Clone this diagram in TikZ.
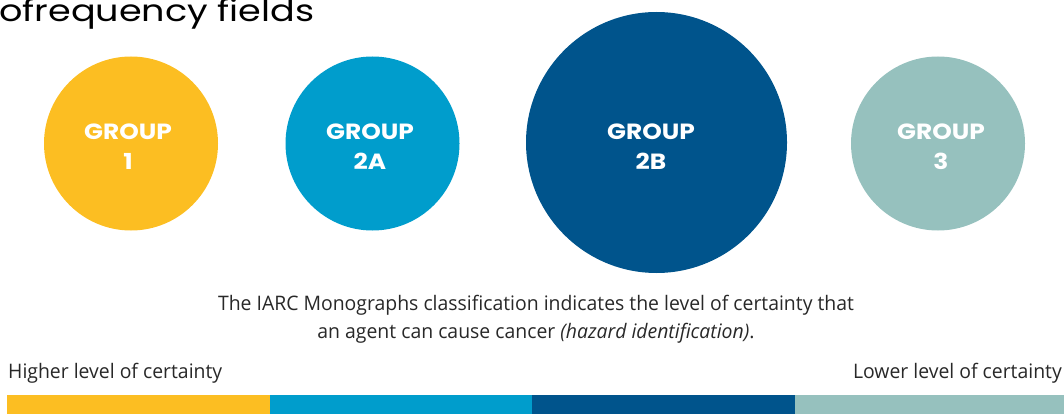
\documentclass[tikz,border=0pt]{standalone}
\usepackage{fontspec}
\setmainfont{Open Sans}
\newfontfamily\titlefont[FakeStretch=1.22]{Poppins}
\newfontfamily\groupfont[FakeStretch=1.13]{Poppins}
\newfontfamily\bodyfont[FakeStretch=0.97]{Open Sans}
\definecolor{gOne}{RGB}{252,190,34}
\definecolor{gTwoA}{RGB}{0,157,204}
\definecolor{gTwoB}{RGB}{0,84,140}
\definecolor{gThree}{RGB}{150,193,190}
\definecolor{txt}{RGB}{40,40,40}
\tikzset{
  grp/.style={circle, fill=#1, draw=none, inner sep=0pt},
  grplabel/.style={text=white, align=center, anchor=base, inner sep=0pt, font=\groupfont\bfseries\fontsize{22}{29}\selectfont},
  body/.style={text=txt, font=\bodyfont\fontsize{20}{28}\selectfont},
  barseg/.style={fill=#1, draw=none}
}
\begin{document}
\begin{tikzpicture}[x=1pt,y=-1pt]
\useasboundingbox (0,0) rectangle (1064,414);
\node[anchor=base west, inner sep=0pt, text=black, font=\titlefont\fontsize{30}{32}\selectfont] (title) at (-1,22) {ofrequency fields};
\node[grp=gOne, minimum size=174pt] (c1) at (131,143.5) {};
\node[grp=gTwoA, minimum size=174pt] (c2) at (372.5,143.5) {};
\node[grp=gTwoB, minimum size=261pt] (c3) at (656.5,142.5) {};
\node[grp=gThree, minimum size=174pt] (c4) at (938,143.5) {};
\node[grplabel] (l1) at (128,169) {GROUP\\1};
\node[grplabel] (l2) at (370,169) {GROUP\\2A};
\node[grplabel] (l3) at (651,169) {GROUP\\2B};
\node[grplabel] (l4) at (941,169) {GROUP\\3};
\node[body, anchor=base, inner sep=0pt] (d1) at (536,310) {The IARC Monographs classification indicates the level of certainty that};
\node[body, anchor=base, inner sep=0pt] (d2) at (536,338) {an agent can cause cancer \textit{(hazard identification)}.};
\node[body, anchor=base west, inner sep=0pt] (hi) at (8,378) {Higher level of certainty};
\node[body, anchor=base east, inner sep=0pt] (lo) at (1062,378) {Lower level of certainty};
\fill[barseg=gOne] (7,395) rectangle (270,414);
\fill[barseg=gTwoA] (270,395) rectangle (532,414);
\fill[barseg=gTwoB] (532,395) rectangle (795,414);
\fill[barseg=gThree] (795,395) rectangle (1064,414);
\end{tikzpicture}
\end{document}
